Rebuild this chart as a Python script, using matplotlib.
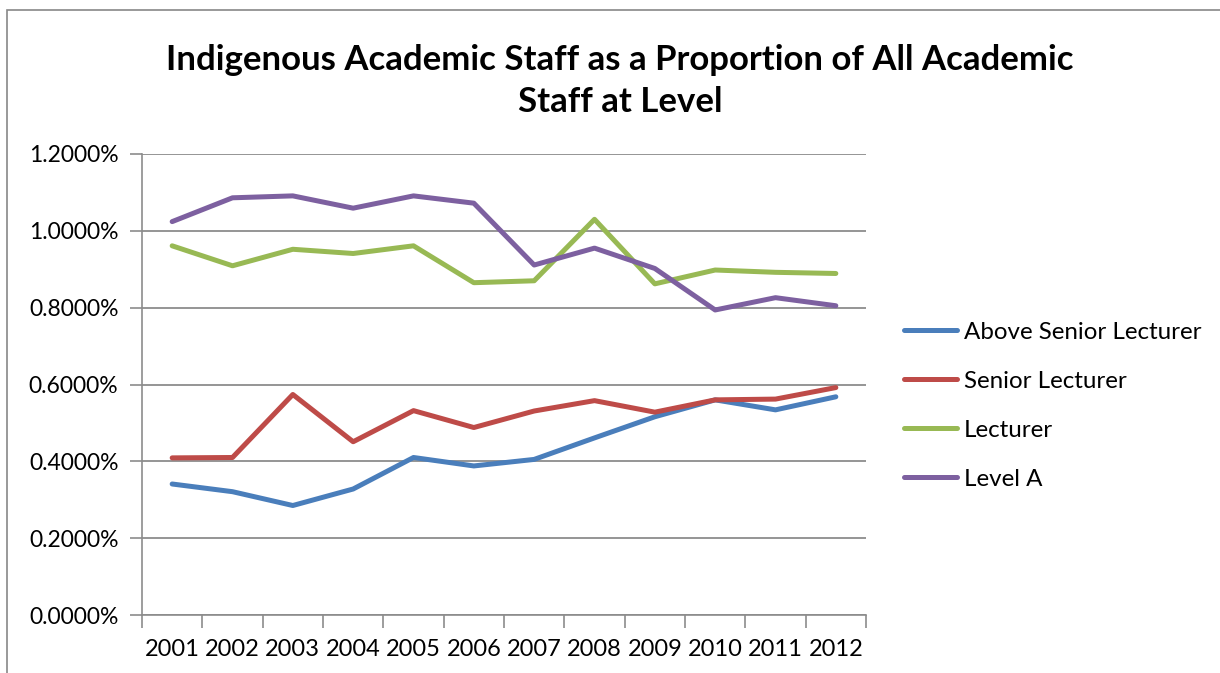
import matplotlib
matplotlib.use("Agg")
import matplotlib.pyplot as plt
from matplotlib.lines import Line2D
from matplotlib.patches import Rectangle

plt.rcParams['font.family'] = ['Lato', 'DejaVu Sans']

# data (percent)
years = ['2001', '2002', '2003', '2004', '2005', '2006', '2007', '2008', '2009', '2010', '2011', '2012']
above_senior = [0.341, 0.321, 0.285, 0.328, 0.410, 0.388, 0.405, 0.461, 0.516, 0.560, 0.534, 0.568]
senior = [0.409, 0.410, 0.574, 0.451, 0.532, 0.488, 0.531, 0.558, 0.528, 0.560, 0.562, 0.592]
lecturer = [0.961, 0.909, 0.952, 0.941, 0.961, 0.865, 0.870, 1.030, 0.862, 0.898, 0.892, 0.889]
level_a = [1.024, 1.086, 1.091, 1.059, 1.091, 1.072, 0.911, 0.955, 0.902, 0.794, 0.826, 0.805]

series = ['Above Senior Lecturer', 'Senior Lecturer', 'Lecturer', 'Level A']
colors = ['#4a7ebb', '#be4b48', '#98b954', '#7d60a0']
yticks = [0.0, 0.2, 0.4, 0.6, 0.8, 1.0, 1.2]

W, H = 1220, 673
fig = plt.figure(figsize=(W / 100, H / 100), dpi=100)
ax = fig.add_axes([142 / W, 1 - 615 / H, (866 - 142) / W, (615 - 154) / H])

# outer chart border
fig.patches.append(Rectangle((7 / W, -0.1), 1.2, 1 - 10 / H + 0.1, transform=fig.transFigure,
                             fill=False, edgecolor='#888888', linewidth=1.2))

x = list(range(len(years)))
for vals, name, c in zip([above_senior, senior, lecturer, level_a], series, colors):
    ax.plot(x, vals, color=c, linewidth=3.6, solid_capstyle='round', solid_joinstyle='round', label=name)

ax.set_xlim(-0.5, len(years) - 0.5)
ax.set_ylim(0, 1.2)
ax.set_yticks(yticks)
ax.set_yticklabels(['%.4f%%' % v for v in yticks])
ax.yaxis.grid(True, color='#8c8c8c', linewidth=1.3)
ax.set_axisbelow(True)
ax.set_xticks([i + 0.5 for i in range(-1, len(years))], minor=False)
ax.set_xticklabels([''] * (len(years) + 1))
ax.set_xticks(x, minor=True)
ax.set_xticklabels(years, minor=True)
ax.tick_params(axis='x', which='major', length=9, color='#8c8c8c', width=1.2)
ax.tick_params(axis='x', which='minor', length=0, pad=17, labelsize=17)
ax.tick_params(axis='y', length=9, color='#8c8c8c', width=1.2, labelsize=16.5, pad=8)
for s in ['top', 'right']:
    ax.spines[s].set_visible(False)
for s in ['left', 'bottom']:
    ax.spines[s].set_color('#8c8c8c')
    ax.spines[s].set_linewidth(1.2)

fig.text(620 / W, 1 - 81 / H, 'Indigenous Academic Staff as a Proportion of All Academic\nStaff at Level',
         ha='center', va='center', fontsize=25, fontweight='bold', linespacing=1.42)

handles = [Line2D([], [], color=c, linewidth=3.6, solid_capstyle='round') for c in colors]
fig.legend(handles, series, loc='upper left', bbox_to_anchor=(882 / W, 1 - 300 / H), frameon=False,
           fontsize=17.4, handlelength=2.2, handletextpad=0.29, labelspacing=1.16)

fig.savefig('out.png', dpi=100)
